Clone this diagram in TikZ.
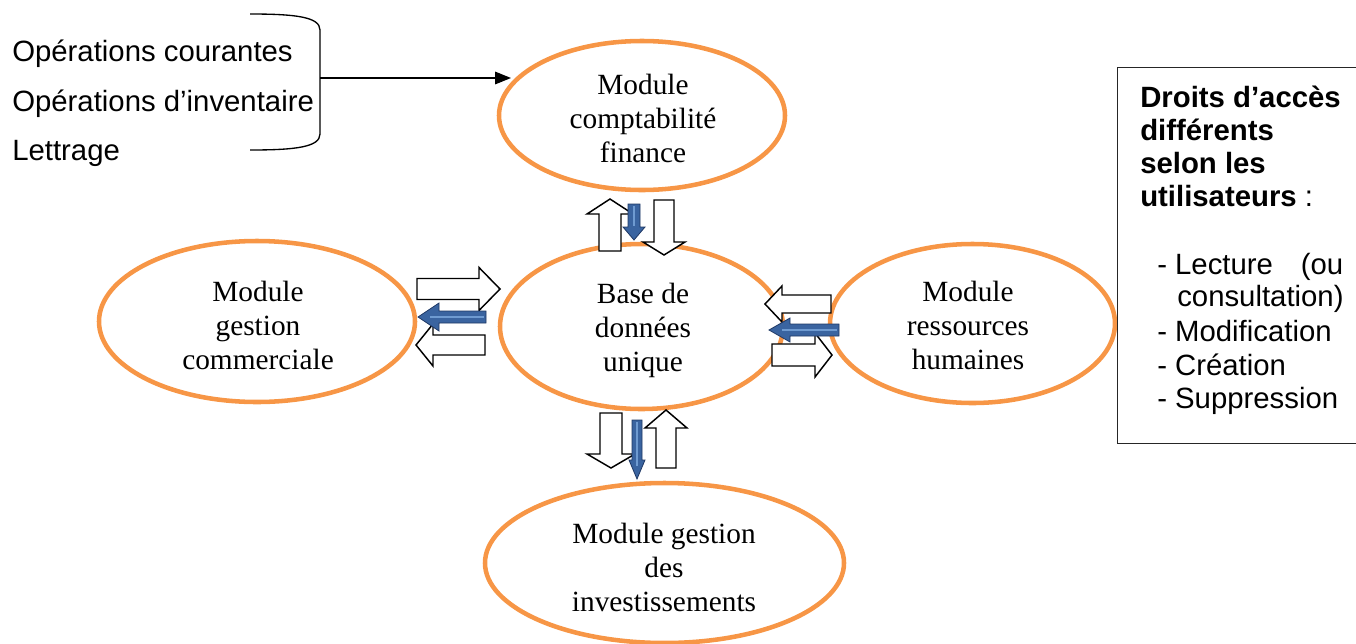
\documentclass[tikz,border=0pt]{standalone}
\usepackage{fontspec}
\setmainfont{Liberation Serif}
\newfontfamily\arialf{Liberation Sans}
\usetikzlibrary{shapes.geometric,arrows.meta}
\definecolor{orng}{HTML}{F79646}
\definecolor{bluefill}{HTML}{3A64A0}
\definecolor{bluedark}{HTML}{1F3864}
\definecolor{bluelight}{HTML}{6F9BD1}
% horizontal block arrow: style, x tail, x head base, x tip, y, half body, half head
\newcommand\hArrow[7]{%
 \draw[#1] (#2,#5-#6) -- (#3,#5-#6) -- (#3,#5-#7) -- (#4,#5) -- (#3,#5+#7) -- (#3,#5+#6) -- (#2,#5+#6) -- cycle;}
% vertical block arrow: style, y tail, y head base, y tip, x, half body, half head
\newcommand\vArrow[7]{%
 \draw[#1] (#5-#6,#2) -- (#5-#6,#3) -- (#5-#7,#3) -- (#5,#4) -- (#5+#7,#3) -- (#5+#6,#3) -- (#5+#6,#2) -- cycle;}
\begin{document}
\begin{tikzpicture}[x=0.75pt,y=-0.75pt,
 modellipse/.style={ellipse, draw=orng, line width=3.4pt, inner sep=0pt},
 modtext/.style={font=\fontsize{22}{25.5}\selectfont, align=center, inner sep=0pt},
 sanstext/.style={font=\arialf\fontsize{22}{25}\selectfont, inner sep=0pt, anchor=base west},
 whitearrow/.style={draw=black, fill=white, line width=1.1pt, miter limit=4},
 bluearrow/.style={draw=bluedark, fill=bluefill, line width=0.6pt},
 bluestripe/.style={draw=bluelight, line width=1.5pt}]
\useasboundingbox (0,0) rectangle (1356,643);

% ellipses
\node[modellipse, minimum width=214.5pt, minimum height=111.75pt] (fin) at (642,115.5) {};
\node[modellipse, minimum width=212.25pt, minimum height=123.75pt] (bdd) at (641.5,326.5) {};
\node[modellipse, minimum width=237pt, minimum height=120.75pt] (com) at (257,321.5) {};
\node[modellipse, minimum width=213.75pt, minimum height=119.25pt] (rh) at (972.5,323.5) {};
\node[modellipse, minimum width=269.25pt, minimum height=120pt] (inv) at (664.5,563) {};

\node[modtext] (finT) at (643,118) {Module\\comptabilité\\finance};
\node[modtext] (bddT) at (643,330) {Base de\\données\\unique};
\node[modtext] (comT) at (258,325) {Module\\gestion\\commerciale};
\node[modtext] (rhT) at (968,325) {Module\\ressources\\humaines};
\node[modtext] (invT) at (664,567) {Module gestion\\des\\investissements};

% left list with bracket
\node[sanstext] (op1) at (12,61) {Opérations courantes};
\node[sanstext] (op2) at (12,111) {Opérations d’inventaire};
\node[sanstext] (op3) at (12,160) {Lettrage};
\draw[line width=1pt] (250,14) .. controls (296,14) and (320,17) .. (320,30) -- (320,134) .. controls (320,147) and (296,150) .. (250,150);
\coordinate (bk) at (320,78);
\coordinate (bkend) at (511,78);
\draw[line width=0.9pt, -{Triangle[length=12pt,width=9.5pt]}] (bk) -- (bkend);

% access rights box
\node[draw=black!85, line width=0.8pt, inner sep=0pt, anchor=north west, minimum width=190pt, minimum height=282pt] (droits) at (1117,67) {};
\node[sanstext] (d1) at (1140,107) {\bfseries Droits d’accès};
\node[sanstext] (d2) at (1140,140) {\bfseries différents};
\node[sanstext] (d3) at (1140,173) {\bfseries selon les};
\node[sanstext] (d4) at (1140,206) {\textbf{utilisateurs} :};
\node[sanstext] (l1) at (1157,274) {\hbox to 139.5pt{- Lecture\hfill(ou}};
\node[sanstext] (l2) at (1177,306) {consultation)};
\node[sanstext] (l3) at (1157,341) {- Modification};
\node[sanstext] (l4) at (1157,375) {- Création};
\node[sanstext] (l5) at (1157,408) {- Suppression};

% block arrows - top
\vArrow{whitearrow}{251}{214}{199}{610}{11}{23}
\vArrow{whitearrow}{200}{242}{255}{664}{10}{21}
\vArrow{bluearrow}{204}{227}{240}{634}{6}{11}
\draw[bluestripe] (634,206) -- (634,226);
% left
\hArrow{whitearrow}{417}{479}{500}{289}{10.5}{21.5}
\hArrow{whitearrow}{485}{433}{416}{345}{10}{21}
\hArrow{bluearrow}{486}{439}{418}{317}{6}{14}
\draw[bluestripe] (484,317) -- (430,317);
% right
\hArrow{whitearrow}{831}{782}{765}{304}{9}{18}
\hArrow{whitearrow}{772}{815}{832}{355}{11}{22}
\hArrow{bluearrow}{839}{790}{769}{330}{6}{12}
\draw[bluestripe] (837,330) -- (782,330);
% bottom
\vArrow{whitearrow}{413}{454}{468}{611}{11}{24}
\vArrow{whitearrow}{468}{428}{410}{666}{10}{21}
\vArrow{bluearrow}{420}{460}{479}{637}{5}{8}
\draw[bluestripe] (637,422) -- (637,466);
\end{tikzpicture}
\end{document}
